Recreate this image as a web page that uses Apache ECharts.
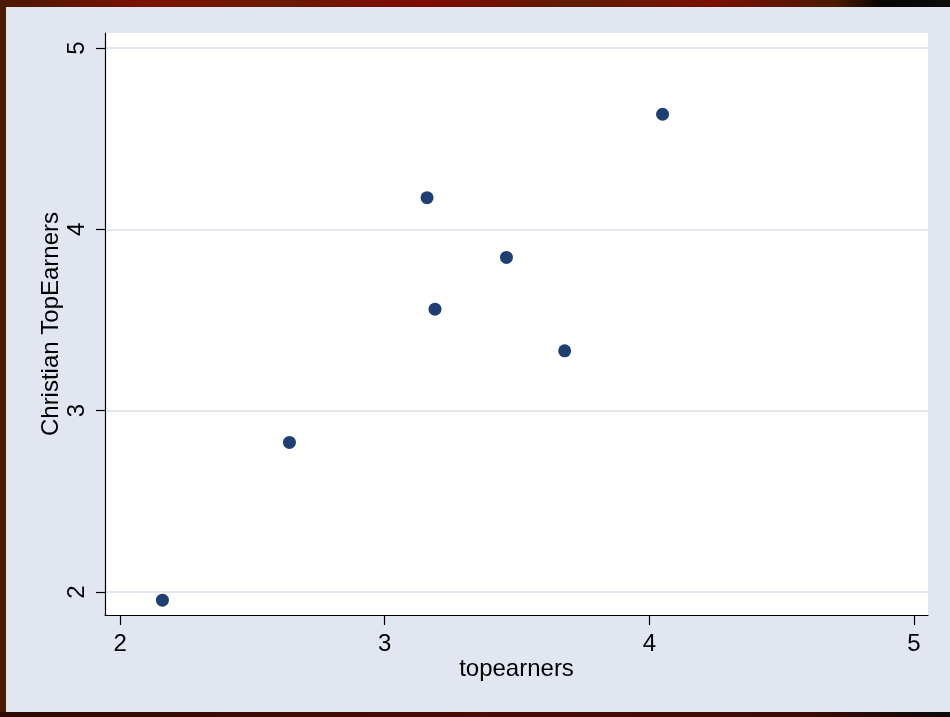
<!DOCTYPE html>
<html>
<head>
<meta charset="utf-8">
<script src="https://cdn.jsdelivr.net/npm/echarts@6/dist/echarts.min.js"></script>
<style>
  html, body { margin: 0; padding: 0; background: #E1E6F0; }
  #chart { width: 950px; height: 717px; }
</style>
</head>
<body>
<div id="chart"></div>
<script>
// topearners vs Christian TopEarners
const topearners = [2.16, 2.64, 3.16, 3.19, 3.46, 3.68, 4.05];
const christianTopEarners = [1.955, 2.825, 4.175, 3.56, 3.845, 3.33, 4.635];
const xTicks = [2, 3, 4, 5];
const yTicks = [2, 3, 4, 5];

const points = topearners.map((x, i) => [x, christianTopEarners[i]]);

const chart = echarts.init(document.getElementById('chart'));
const font = 'Liberation Sans, Arial, Helvetica, sans-serif';

chart.setOption({
  backgroundColor: '#E1E6F0',
  animation: false,
  graphic: [
    { type: 'rect', z: -1, shape: { x: 0, y: 0, width: 950, height: 7 },
      style: { fill: new echarts.graphic.LinearGradient(0, 0, 1, 0, [
        { offset: 0, color: '#4a1800' }, { offset: 0.15, color: '#7a1200' },
        { offset: 0.3, color: '#6a1a00' }, { offset: 0.45, color: '#7f0a00' },
        { offset: 0.6, color: '#5e1c00' }, { offset: 0.75, color: '#7a1000' },
        { offset: 0.88, color: '#4a1a00' }, { offset: 0.93, color: '#050505' },
        { offset: 1, color: '#0e0e0e' }]) } },
    { type: 'rect', z: -1, shape: { x: 0, y: 0, width: 6, height: 717 },
      style: { fill: '#4a1a04' } },
    { type: 'rect', z: -1, shape: { x: 0, y: 712, width: 950, height: 5 },
      style: { fill: new echarts.graphic.LinearGradient(0, 0, 1, 0, [
        { offset: 0, color: '#2a0c02' }, { offset: 0.5, color: '#4a0c04' },
        { offset: 0.85, color: '#3a0c04' }, { offset: 1, color: '#0a0a0a' }]) } }
  ],
  grid: {
    left: 105, right: 22, top: 33, bottom: 102,
    show: true, backgroundColor: '#ffffff', borderWidth: 0
  },
  xAxis: {
    type: 'value',
    min: 1.943, max: 5.053,
    name: 'topearners',
    nameLocation: 'middle',
    nameGap: 42,
    nameMoveOverlap: false,
    nameTextStyle: { fontFamily: font, fontSize: 24, color: '#000' },
    axisLine: { show: true, lineStyle: { color: '#000', width: 1.2 } },
    axisTick: { show: true, length: 10, customValues: xTicks, lineStyle: { color: '#000', width: 1.2 } },
    axisLabel: { customValues: xTicks, margin: 17, fontFamily: font, fontSize: 24, color: '#000' },
    splitLine: { show: false }
  },
  yAxis: {
    type: 'value',
    min: 1.873, max: 5.083,
    name: 'Christian TopEarners',
    nameLocation: 'middle',
    nameGap: 42,
    nameMoveOverlap: false,
    nameTextStyle: { fontFamily: font, fontSize: 24, color: '#000' },
    axisLine: { show: true, lineStyle: { color: '#000', width: 1.2 } },
    axisTick: { show: true, length: 9, customValues: yTicks, lineStyle: { color: '#000', width: 1.2 } },
    axisLabel: { customValues: yTicks, rotate: 90, margin: 16, fontFamily: font, fontSize: 24, color: '#000' },
    splitLine: { show: true, lineStyle: { color: '#E1E6F0', width: 2 } }
  },
  series: [{
    type: 'scatter',
    data: points,
    symbol: 'circle',
    symbolSize: 13,
    itemStyle: { color: '#1F3E72', opacity: 1 }
  }]
});
</script>
</body>
</html>
